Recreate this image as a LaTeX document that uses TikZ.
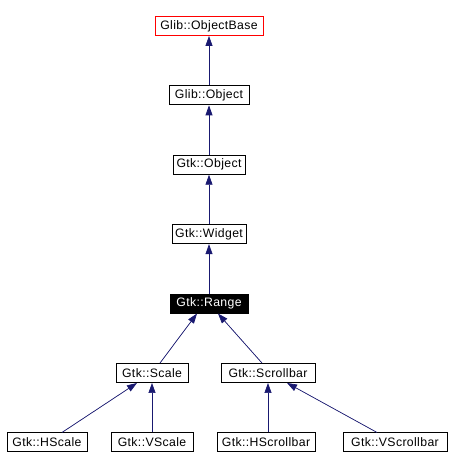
\documentclass[tikz,border=0pt]{standalone}
\usepackage{fontspec}
\setmainfont{Liberation Sans}[LetterSpace=3]
\usetikzlibrary{arrows.meta}
\definecolor{edgeblue}{RGB}{25,25,112}
\tikzset{
  cls/.style={draw=black, line width=0.9bp, fill=white, inner sep=0pt, minimum height=19bp, font=\fontsize{12.3}{12.3}\selectfont, text=black},
  rootcls/.style={cls, draw=red},
  curcls/.style={cls, fill=black, text=white},
  inh/.style={draw=edgeblue, line width=0.7bp, {Triangle[length=10bp,width=7bp]}-, fill=edgeblue}
}
\begin{document}
\begin{tikzpicture}[x=1bp,y=-1bp]
\useasboundingbox (0,0) rectangle (452,470);
\node[rootcls, minimum width=108bp] (ob) at (209,26) {Glib::ObjectBase};
\node[cls, minimum width=80bp] (go) at (209,95.4) {Glib::Object};
\node[cls, minimum width=72bp] (gto) at (209,164.8) {Gtk::Object};
\node[cls, minimum width=74bp] (wd) at (209,234.2) {Gtk::Widget};
\node[curcls, minimum width=78bp] (rg) at (209,303.6) {Gtk::Range};
\node[cls, minimum width=72bp] (sc) at (152,373) {Gtk::Scale};
\node[cls, minimum width=94bp] (sb) at (268,373) {Gtk::Scrollbar};
\node[cls, minimum width=80bp] (hs) at (47,442.4) {Gtk::HScale};
\node[cls, minimum width=82bp] (vs) at (152,442.4) {Gtk::VScale};
\node[cls, minimum width=98bp] (hsb) at (266,442.4) {Gtk::HScrollbar};
\node[cls, minimum width=104bp] (vsb) at (395,442.4) {Gtk::VScrollbar};
\draw[inh] (ob.south) -- (go.north);
\draw[inh] (go.south) -- (gto.north);
\draw[inh] (gto.south) -- (wd.north);
\draw[inh] (wd.south) -- (rg.north);
\draw[inh] ([xshift=-12bp]rg.south) -- ([xshift=8bp]sc.north);
\draw[inh] ([xshift=9bp]rg.south) -- ([xshift=-6bp]sb.north);
\draw[inh] ([xshift=-15bp]sc.south) -- ([xshift=15bp]hs.north);
\draw[inh] (sc.south) -- (vs.north);
\draw[inh] (sb.south) -- (hsb.north -| sb.south);
\draw[inh] ([xshift=19bp]sb.south) -- ([xshift=-18bp]vsb.north);
\end{tikzpicture}
\end{document}
